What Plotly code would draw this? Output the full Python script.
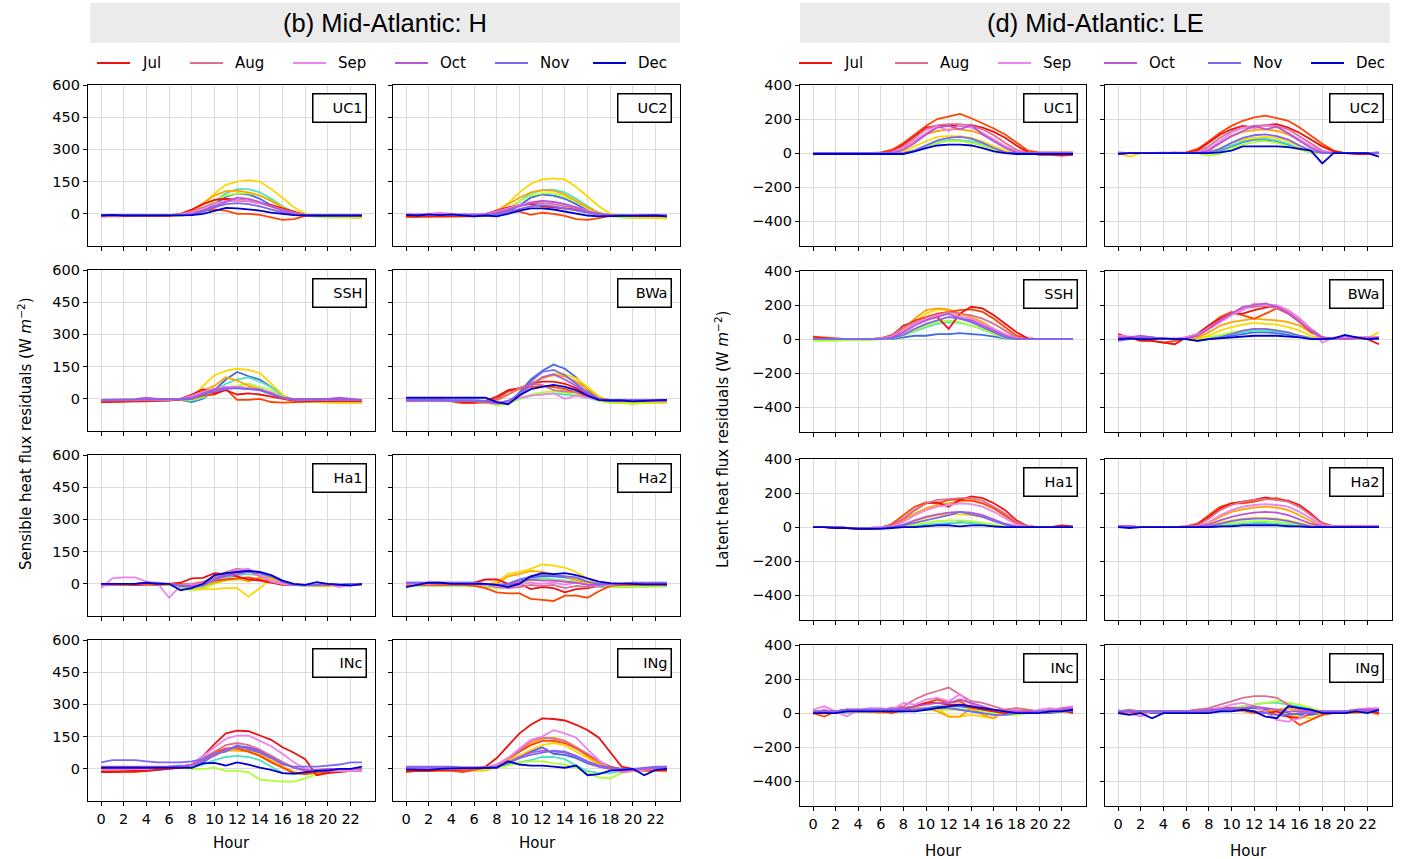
import plotly.graph_objects as go

MONTHS = ["Jan", "Feb", "Mar", "Apr", "May", "Jun", "Jul", "Aug", "Sep", "Oct", "Nov", "Dec"]
COLORS = ["#4169E1", "#50E3C2", "#ADFF2F", "#FFD700", "#FFA500", "#FF4500",
          "#EE1111", "#DB7093", "#EE82EE", "#BA55D3", "#7B68EE", "#0000CD"]
HOURS = list(range(24))
LEGEND_MONTHS = ["Jul", "Aug", "Sep", "Oct", "Nov", "Dec"]
X_TICKS = list(range(0, 23, 2))
H_TICKS = [0, 150, 300, 450, 600]
LE_TICKS = [-400, -200, 0, 200, 400]

# ---------------- Sensible heat flux residuals (H) ----------------
H_UC1 = [
    [-8,-8,-8,-7,-7,-7,-8,-8,-5,10,45,80,95,90,70,40,15,0,-8,-10,-10,-10,-10,-10],
    [-10,-10,-9,-9,-9,-9,-9,-8,-3,20,60,95,115,115,100,70,35,8,-8,-12,-15,-15,-15,-15],
    [-12,-12,-12,-11,-11,-11,-11,-10,-3,25,60,85,95,95,85,60,30,5,-10,-15,-18,-18,-18,-20],
    [-12,-12,-12,-10,-10,-10,-10,-6,5,45,95,135,150,157,150,115,75,30,0,-10,-12,-14,-15,-15],
    [-10,-10,-10,-9,-9,-9,-8,-3,15,50,85,105,108,100,85,60,30,5,-8,-10,-10,-10,-10,-10],
    [-12,-12,-12,-11,-11,-11,-10,-5,5,15,20,15,0,0,-5,-15,-28,-25,-10,-10,-10,-10,-10,-10],
    [-10,-10,-10,-10,-10,-10,-8,0,20,45,65,70,65,60,50,40,25,10,-5,-8,-8,-8,-8,-8],
    [-8,-8,-8,-8,-8,-8,-6,0,10,30,50,60,62,58,50,35,20,5,-5,-8,-8,-8,-8,-8],
    [-8,-8,-8,-7,-7,-7,-7,-5,5,25,45,60,65,60,50,35,15,0,-8,-8,-8,-8,-8,-8],
    [-8,-8,-8,-7,-7,-7,-7,-6,0,15,35,55,75,70,55,35,15,0,-8,-8,-8,-8,-8,-8],
    [-8,-8,-8,-7,-7,-7,-7,-6,-3,10,30,45,50,45,35,20,5,-5,-8,-8,-8,-8,-8,-8],
    [-8,-5,-8,-7,-7,-7,-7,-7,-6,0,15,28,25,20,15,5,-2,-6,-8,-8,-8,-8,-8,-8],
]
H_UC2 = [
    [-5,-8,-5,-5,-5,-8,-10,-8,-5,10,40,75,90,85,70,45,15,0,-10,-12,-10,-10,-8,-8],
    [-8,-8,-8,-8,-8,-8,-10,-8,0,20,60,95,110,112,100,70,35,5,-10,-15,-15,-15,-15,-15],
    [-10,-10,-10,-10,-10,-10,-12,-10,-2,25,60,85,95,95,80,55,25,0,-12,-18,-20,-20,-20,-20],
    [-10,-10,-10,-8,-8,-8,-10,-5,8,50,100,140,160,165,160,125,80,35,0,-10,-15,-18,-20,-22],
    [-12,-12,-12,-10,-10,-10,-10,-3,15,45,75,100,110,108,90,60,30,5,-8,-10,-10,-10,-10,-12],
    [-15,-15,-15,-12,-12,-12,-12,-5,0,10,10,-5,5,0,-10,-25,-28,-20,-10,-10,-10,-10,-10,-10],
    [-10,-10,-10,-10,-10,-10,-10,0,15,30,40,45,35,30,25,20,10,0,-8,-8,-5,-8,-8,-8],
    [-5,-5,-5,0,-5,-5,-5,0,10,25,40,50,50,45,35,25,10,0,-5,-5,-5,-5,-5,-5],
    [0,-2,0,5,0,-2,-2,0,10,25,40,55,60,55,45,30,15,0,-5,-5,-5,-5,-5,-5],
    [-5,-5,-5,-5,-5,-5,-5,-3,5,20,35,50,60,55,45,30,10,0,-5,-5,-5,-5,-5,-5],
    [-5,-5,-5,-5,-5,-5,-8,-5,-3,10,25,35,40,35,25,15,5,-5,-8,-8,-8,-8,-8,-8],
    [-5,-8,-3,-6,-3,-6,-12,-8,-12,0,15,25,25,20,10,0,-8,-12,-10,-10,-10,-8,-8,-12],
]
H_SSH = [
    [-5,-5,-5,-5,-5,-5,-5,-5,-15,0,40,90,125,105,90,55,15,-5,-8,-8,-8,-8,-8,-8],
    [-5,-5,-5,-5,-5,-5,-5,-5,-10,5,30,70,90,100,80,55,15,-5,-10,-10,-10,-10,-10,-10],
    [-8,-8,-8,-8,-8,-8,-8,-5,-5,10,35,55,60,70,55,40,5,-15,-10,-10,-10,-10,-10,-10],
    [-15,-15,-12,-10,-8,-8,-5,0,10,60,110,130,140,135,120,70,20,-10,-15,-15,-18,-20,-20,-20],
    [-10,-10,-10,-8,-8,-8,-5,0,15,40,60,100,85,60,45,25,0,-10,-10,-10,-10,-10,-10,-10],
    [-15,-15,-15,-12,-12,-10,-8,-5,0,15,20,45,-5,-5,0,-15,-18,-15,-15,-12,-12,-12,-12,-12],
    [-15,-15,-12,-10,-10,-10,-8,0,20,45,25,40,20,25,20,10,0,-8,-10,-10,-10,-10,-10,-10],
    [-8,-8,-8,-5,-5,-5,-5,0,15,35,45,55,55,50,40,25,5,-5,-5,-5,-5,-5,-5,-5],
    [-5,-5,-5,-5,0,-5,-5,0,10,30,45,55,55,50,40,30,5,-5,-5,-5,-5,-5,-5,-5],
    [-5,-5,-3,-2,5,0,0,0,5,25,45,50,50,45,45,25,5,0,0,0,0,5,0,-5],
    [-5,-5,-5,-5,-3,-3,-3,-3,0,20,35,45,50,45,40,20,5,-5,-5,-5,-5,-5,-5,-5],
    None,
]
H_BWA = [
    [-5,-5,-5,-5,-5,-5,-8,-10,-20,-20,30,90,130,160,140,100,40,0,-5,-5,-5,-5,-5,-5],
    [-10,-10,-10,-10,-10,-10,-12,-15,-25,-20,0,15,20,25,20,15,5,-10,-15,-15,-15,-15,-15,-15],
    [-10,-10,-10,-10,-10,-10,-12,-15,-30,-25,0,20,30,35,30,20,10,-10,-20,-20,-25,-20,-20,-20],
    [-8,-8,-8,-8,-8,-8,-10,-15,-20,-15,20,70,100,115,115,95,55,10,-10,-15,-15,-15,-15,-15],
    [-8,-8,-8,-8,-8,-10,-15,-20,-10,20,45,70,95,110,105,80,45,5,-10,-12,-12,-12,-12,-12],
    [-8,-8,-8,-8,-12,-20,-20,-15,0,35,50,55,60,55,45,30,10,-5,-10,-10,-10,-10,-10,-10],
    [-5,-5,-5,-5,-10,-15,-15,-10,10,40,50,70,80,80,70,50,20,-5,-10,-10,-10,-10,-10,-10],
    [-10,-10,-10,-8,-8,-10,-12,-15,-5,20,50,70,65,40,35,30,15,-5,-10,-10,-10,-10,-10,-10],
    [-8,-8,-8,-8,-8,-8,-10,-15,-25,-15,5,15,20,25,0,15,5,-5,-10,-10,-10,-10,-10,-10],
    [-10,-10,-10,-8,-8,-8,-10,-15,-20,-10,20,60,100,115,90,60,25,-5,-10,-10,-5,-10,-10,-10],
    [-5,-5,-5,-5,-5,-5,-8,-10,-20,-10,20,80,125,135,110,70,30,0,-5,-5,-5,-5,-5,-5],
    [5,5,5,5,5,5,5,5,-15,-25,15,45,55,65,55,40,15,-5,-8,-8,-12,-10,-5,-5],
]
H_HA1 = [
    [0,0,0,0,0,-5,-5,-15,-15,-5,25,45,55,65,50,35,10,-5,-5,-5,-5,-5,0,0],
    [0,0,0,0,0,-5,-5,-15,-20,-15,10,25,40,45,40,30,10,-5,-10,-10,-10,-10,-5,-5],
    [-5,-5,-5,-5,-5,-5,-5,-20,-30,-25,0,15,20,20,25,25,5,-5,-10,-10,-10,-10,-5,-5],
    [-5,-5,-5,-5,0,0,0,-10,-20,-25,-25,-20,-20,-60,-20,25,10,0,-5,-5,-10,-10,-5,-5],
    [-5,-5,-5,-5,-5,-5,-5,-5,-15,-10,5,20,25,10,30,30,10,-5,-5,-10,-10,-5,-5,-5],
    [-5,-5,-5,-5,-5,0,0,0,-5,5,15,20,25,30,20,10,0,-5,-5,-5,-5,-5,-5,-5],
    [0,0,0,-5,0,-5,0,5,25,28,50,45,35,20,15,5,-5,-5,-5,-5,-5,-5,-5,0],
    [-10,-5,0,0,0,0,0,-5,0,10,30,55,70,60,35,15,0,-5,-5,-5,-5,-5,-5,-5],
    [-20,25,30,30,10,0,-65,-10,-5,0,20,40,65,70,40,10,0,-5,-10,-5,0,-15,-5,0],
    [0,0,0,0,5,0,0,-10,-10,-5,20,35,45,55,50,35,10,-5,-5,-5,0,-5,-5,0],
    [0,0,0,0,5,5,0,-10,-15,-5,20,40,55,60,50,35,10,-5,-5,-5,0,-5,0,0],
    [0,0,0,0,5,0,0,-30,-20,0,40,50,55,60,55,40,15,0,-5,8,0,-3,-8,0],
]
H_HA2 = [
    [0,0,0,0,0,0,0,-5,-10,0,20,30,35,35,30,20,5,-5,-8,-8,-8,-8,-8,-8],
    [-8,-8,-8,-8,-8,-8,-8,-10,-15,-10,10,20,25,20,15,10,0,-15,-15,-15,-15,-15,-12,-12],
    [-8,-8,-8,-8,-8,-8,-10,-15,-20,-15,0,15,20,15,15,10,0,-10,-15,-15,-15,-15,-12,-10],
    [-5,-5,-5,-5,-5,-5,-5,-5,10,45,55,70,90,85,75,55,25,0,-5,-5,-5,-5,-5,-5],
    [-5,-5,-5,-5,-5,-5,-5,-5,0,35,45,60,55,45,35,20,5,-5,-5,-5,-5,-5,-5,-5],
    [-5,-5,-5,-5,-5,-5,-10,-20,-40,-45,-45,-70,-75,-80,-55,-55,-65,-35,-10,-5,-5,-5,-5,-5],
    [0,0,0,0,0,0,5,20,20,0,0,-25,-15,-20,-40,-25,-20,-10,-5,0,0,0,0,0],
    [0,0,0,0,0,0,0,-5,-15,-20,-15,-5,-10,-5,-20,-10,-15,-10,-5,0,0,0,0,0],
    [0,0,0,5,0,0,0,-5,-10,-15,-5,5,0,5,-5,5,-5,-10,-5,0,5,0,0,0],
    [5,5,5,5,5,5,5,0,-5,-5,10,20,15,15,10,5,-5,-5,0,0,5,0,0,0],
    [5,5,5,5,5,5,5,0,-5,0,20,35,40,40,35,30,10,0,0,0,5,5,5,5],
    [-15,-5,5,5,0,0,0,0,-5,-15,0,35,50,45,50,40,25,10,3,0,0,-3,-3,-3],
]
H_INC = [
    [0,0,0,5,5,5,10,15,15,30,65,90,105,100,85,60,30,5,-10,-10,-5,-5,-5,0],
    [-5,-5,-5,0,0,0,5,10,10,20,40,55,60,55,40,10,-20,-25,-20,-15,-10,-10,-5,-5],
    [-5,-5,-5,0,0,0,5,5,0,0,5,-10,-10,-15,-50,-55,-60,-60,-45,-25,-15,-15,-10,-5],
    [-10,-10,-10,-5,-5,0,5,10,20,40,70,85,90,85,70,40,10,-15,-25,-15,-10,-10,-5,-5],
    [-10,-10,-10,-5,-5,0,0,5,20,45,70,85,85,80,60,35,10,-15,-25,-20,-15,-10,-10,-10],
    [-15,-15,-15,-15,-10,-5,0,5,20,50,75,95,95,80,60,30,5,-20,-25,-15,-15,-10,-10,-10],
    [-15,-15,-10,-10,-10,-5,0,5,20,60,115,165,178,175,155,135,100,75,45,-30,-20,-15,-10,-10],
    [-5,-5,-5,0,0,5,5,10,20,50,80,110,120,110,90,60,30,5,-10,-10,-10,-10,-10,-10],
    [0,0,0,0,0,5,5,10,20,60,100,140,155,155,130,105,70,30,0,-10,-10,-10,-10,-10],
    [10,10,10,10,10,10,10,10,20,40,60,90,100,95,80,55,25,5,-5,-5,0,0,0,0],
    [30,40,40,40,35,30,30,30,35,45,70,80,110,90,75,50,20,10,10,10,15,20,30,30],
    [5,5,5,5,5,5,5,5,5,25,28,15,30,20,5,-5,-20,-22,-15,-10,-8,0,0,10],
]
H_ING = [
    [5,5,5,5,5,5,5,5,15,35,60,80,100,70,65,50,25,10,0,-5,-5,0,5,5],
    [5,5,0,0,0,0,0,0,10,20,30,40,55,55,45,15,-10,-20,-20,-10,-5,0,5,5],
    [0,0,0,0,0,0,0,0,5,15,30,35,35,25,20,5,-20,-40,-45,-20,-10,-5,0,0],
    [-5,-5,-5,-5,-5,-5,-10,-10,10,35,60,90,110,120,110,80,50,20,-5,-10,-10,-5,-5,-5],
    [-10,-10,-10,-5,-5,0,-5,5,15,40,80,120,140,145,130,100,60,25,0,-10,-10,-5,-5,-5],
    [-15,-10,-10,-10,-10,-15,-5,5,20,50,80,110,130,130,120,95,65,35,10,0,-5,-10,-10,-10],
    [-10,-10,-10,-5,-5,-5,0,10,50,110,165,205,235,232,225,205,180,145,75,10,0,-5,-5,-5],
    [0,0,0,0,0,0,0,5,15,50,85,130,145,140,130,100,70,35,0,-15,-10,-5,0,0],
    [0,0,0,0,0,5,5,5,20,50,95,135,150,180,165,145,90,40,0,-15,-10,-5,5,10],
    [5,5,5,5,5,5,5,5,10,30,55,75,85,80,75,55,30,10,0,-10,-5,0,5,5],
    [10,10,10,10,10,5,5,5,10,25,50,65,75,85,80,60,35,15,5,0,0,5,10,10],
    [-3,-3,-5,0,3,3,3,3,5,35,20,15,15,10,5,15,-30,-25,-8,-5,0,-30,-5,0],
]

# ---------------- Latent heat flux residuals (LE) ----------------
LE_UC1 = [
    [0,0,0,0,0,0,0,0,0,15,40,60,75,75,65,45,20,5,0,0,0,0,0,0],
    [0,0,0,0,0,0,0,0,0,20,45,65,75,75,70,50,25,5,0,0,0,0,0,0],
    [0,0,0,0,0,0,0,0,0,20,40,60,70,70,60,45,20,5,0,0,0,0,0,0],
    [0,0,0,0,0,0,0,0,10,40,70,95,100,100,90,70,40,15,0,0,0,0,0,0],
    [0,0,0,0,0,0,0,5,30,70,110,130,140,140,130,110,80,40,10,0,0,0,0,0],
    [0,0,0,0,0,0,5,20,60,110,160,200,215,230,205,175,145,110,60,15,5,5,5,5],
    [0,0,0,0,0,0,0,10,50,100,150,160,160,160,165,150,125,90,45,5,-10,-10,-15,-10],
    [0,0,0,0,0,0,0,5,40,90,140,165,170,170,160,140,105,60,20,0,0,0,0,0],
    [0,0,0,0,0,0,0,5,30,75,120,160,130,165,150,120,80,40,10,0,0,0,0,0],
    [0,0,0,0,0,0,0,0,20,60,110,150,160,140,165,110,70,30,5,0,0,0,0,0],
    [0,0,0,0,0,0,0,0,0,15,45,75,90,95,85,60,30,5,0,0,0,0,0,0],
    [-5,-5,-5,-5,-5,-5,-5,-5,-5,10,30,45,50,50,45,30,10,0,-5,-5,-5,-5,-5,-5],
]
LE_UC2 = [
    [0,0,0,0,0,0,0,0,0,15,40,65,80,80,70,50,25,5,0,0,0,0,0,0],
    [0,0,0,0,0,0,0,0,0,20,45,70,85,85,75,55,25,5,0,0,0,0,0,0],
    [0,0,0,0,0,0,0,0,-15,-5,30,50,65,70,60,40,20,5,0,0,0,0,0,0],
    [0,-20,0,0,0,0,0,0,5,30,60,80,90,95,90,70,40,10,0,0,0,0,0,0],
    [0,0,0,0,0,0,0,5,25,60,100,125,135,140,130,110,75,35,10,0,0,0,0,0],
    [0,0,0,0,0,0,5,25,70,120,160,190,210,220,205,190,150,100,55,15,0,0,0,0],
    [0,0,0,0,0,0,0,15,60,110,140,160,150,165,170,150,120,80,40,10,0,-5,-5,0],
    [0,0,0,0,0,0,0,5,40,90,130,150,160,165,160,140,100,55,15,0,0,0,0,0],
    [0,0,0,0,5,0,0,5,25,70,120,150,145,160,155,120,80,40,10,0,0,0,0,5],
    [5,0,0,0,0,5,0,0,15,60,100,130,160,140,155,115,70,30,5,0,0,0,0,5],
    [0,0,0,0,0,0,0,0,5,25,60,90,105,110,100,80,45,15,0,0,0,0,0,0],
    [-5,0,0,0,0,0,0,0,0,5,15,40,40,40,40,35,25,15,-60,0,0,0,0,-20],
]
LE_SSH = [
    [0,0,0,0,0,0,0,0,10,20,20,30,30,35,30,25,15,5,0,0,0,0,0,0],
    [-5,-5,-5,-5,-5,0,0,5,20,45,70,90,100,95,80,55,30,5,0,0,0,0,0,0],
    [-10,-10,-10,-5,-5,-5,0,5,20,50,80,100,110,100,80,60,30,10,0,0,0,0,0,0],
    [0,0,0,0,0,0,0,10,50,100,150,175,170,140,110,80,50,20,0,0,0,0,0,0],
    [5,5,0,0,0,0,5,20,60,120,170,180,175,150,130,100,60,25,5,0,0,0,0,0],
    [15,10,5,0,0,0,5,25,70,110,130,150,160,170,175,160,120,70,20,5,0,0,0,0],
    [10,5,0,0,0,0,5,20,80,100,120,130,60,150,190,180,140,90,40,5,0,0,0,0],
    [5,0,0,0,0,0,5,20,70,100,120,140,160,150,140,120,90,50,10,0,0,0,0,0],
    [0,0,0,0,0,0,5,15,50,90,120,140,150,130,120,90,60,30,5,0,0,0,0,0],
    [0,0,0,0,0,0,0,10,40,80,110,130,150,120,110,80,50,20,0,0,0,0,0,0],
    [0,0,0,0,0,0,0,5,25,60,90,110,130,120,100,70,40,10,0,0,0,0,0,0],
    None,
]
LE_BWA = [
    [0,0,0,0,0,0,0,0,0,10,20,30,40,40,35,25,15,5,0,0,0,0,0,0],
    [0,0,0,0,0,0,0,0,10,20,30,40,50,50,45,35,20,5,0,0,0,0,0,0],
    [0,0,0,0,0,0,0,0,10,25,40,50,60,60,55,40,20,10,0,0,0,0,10,10],
    [0,0,0,0,0,0,0,5,20,50,70,85,95,90,85,70,50,20,0,0,0,0,5,40],
    [0,0,5,0,0,0,0,10,40,80,100,110,120,115,110,100,80,40,10,0,0,5,5,0],
    [20,10,0,-10,-20,-10,5,30,80,130,160,140,120,150,180,150,100,40,10,0,0,10,10,0],
    [30,10,-10,-10,-20,-30,10,30,80,120,150,150,170,185,195,170,120,60,10,0,0,10,0,-30],
    [10,10,10,10,0,0,10,20,70,110,150,180,190,195,180,160,110,60,10,0,0,5,10,10],
    [20,15,10,10,5,5,10,30,60,100,140,170,210,200,200,170,120,60,-20,10,10,10,10,10],
    [10,10,20,10,0,0,5,20,60,110,150,190,200,210,190,150,100,50,10,5,0,5,5,10],
    [-10,0,10,10,0,0,0,-10,0,10,30,50,60,60,50,40,20,5,0,0,20,10,0,0],
    [0,5,0,0,5,0,0,-10,0,5,10,15,20,20,20,15,10,0,0,5,25,10,0,5],
]
LE_HA1 = [
    [0,0,0,-5,-5,-5,-5,0,0,5,10,15,20,30,25,15,5,0,0,0,0,0,0,0],
    [0,0,0,-5,-5,-5,-5,0,0,10,15,20,25,25,25,15,10,0,0,0,0,0,0,0],
    [0,0,0,-5,-5,-5,-5,0,5,15,25,35,40,40,35,25,15,5,0,0,0,0,0,0],
    [0,0,0,-5,-5,-5,-5,0,15,35,55,70,75,75,70,60,40,15,0,0,0,0,0,0],
    [0,0,0,-5,-5,-5,0,10,40,80,110,130,140,150,160,140,110,70,25,5,0,0,0,0],
    [0,0,-5,-5,-10,-10,-5,20,70,120,145,140,160,160,155,140,110,70,25,5,0,0,0,0],
    [0,0,-5,-5,-10,-10,-5,10,50,100,140,145,120,160,180,170,140,100,40,5,0,0,10,5],
    [0,0,0,-5,-5,-5,0,10,50,100,140,160,165,170,170,155,120,80,30,5,0,0,0,0],
    [0,0,0,-5,-5,-5,0,5,30,70,100,120,130,140,135,120,90,50,15,0,0,0,0,0],
    [0,0,0,-5,-5,-5,-5,0,15,40,60,75,85,90,85,70,45,20,5,0,0,0,0,0],
    [0,0,0,-5,-5,-5,-5,0,10,25,40,55,70,90,75,60,35,15,0,0,0,0,0,0],
    [0,0,-5,-5,-10,-10,-10,-5,0,0,5,10,10,5,10,10,5,0,0,0,0,0,0,0],
]
LE_HA2 = [
    [0,0,0,0,0,0,0,0,0,5,10,15,20,20,15,10,5,0,0,0,0,0,0,0],
    [0,0,0,0,0,0,0,0,0,10,15,20,25,25,20,15,10,0,0,0,0,0,0,0],
    [0,0,0,0,0,0,0,0,5,15,25,30,35,35,30,25,15,5,0,0,0,0,0,0],
    [0,0,0,0,0,0,0,0,10,25,40,50,55,55,50,40,25,10,0,0,0,0,0,0],
    [5,0,0,0,0,0,0,5,25,60,90,105,115,120,115,100,70,35,5,0,0,0,0,0],
    [5,5,0,0,0,0,5,20,70,120,140,140,150,165,170,150,120,70,25,5,5,5,5,5],
    [5,5,0,0,0,0,5,15,60,110,140,150,160,175,160,155,130,80,20,5,5,5,5,5],
    [5,5,0,0,0,0,5,10,50,100,130,150,160,165,160,150,120,70,20,5,5,5,5,5],
    [5,5,0,0,0,0,0,5,30,70,100,120,130,135,130,120,90,50,10,5,5,5,5,5],
    [5,5,0,0,0,0,0,5,15,40,60,75,85,90,85,70,45,20,5,0,0,0,0,0],
    [0,0,0,0,0,0,0,0,5,20,35,45,50,50,45,35,20,5,0,0,0,0,0,0],
    [0,-5,0,0,0,0,0,0,0,5,5,10,10,10,10,5,5,0,0,0,0,0,0,0],
]
LE_INC = [
    [0,0,0,10,10,10,10,10,10,20,30,40,40,40,30,20,10,0,0,0,0,0,10,10],
    [0,0,0,0,10,10,10,10,10,20,20,30,30,20,10,0,-10,-10,0,0,0,10,10,10],
    [0,10,10,10,10,10,10,10,20,20,20,20,20,20,20,10,0,-10,-10,0,10,10,10,10],
    [0,0,0,10,10,10,10,10,10,20,30,30,-20,-20,-10,-20,-30,10,10,0,0,10,10,10],
    [10,10,10,10,10,10,0,10,20,30,30,10,-20,-20,30,-10,-30,20,30,20,10,10,10,0],
    [0,-20,10,20,10,10,10,0,20,40,60,80,60,70,30,30,10,20,10,10,10,10,20,10],
    [10,0,10,20,20,10,20,30,30,40,60,60,50,50,40,20,10,0,10,10,10,10,20,0],
    [0,20,0,10,20,10,20,30,40,80,110,130,150,110,70,60,40,20,30,20,10,20,30,40],
    [20,40,10,-20,20,30,30,20,60,50,80,90,70,110,50,40,20,10,20,0,20,30,20,40],
    [10,10,10,20,20,20,20,20,30,40,50,60,60,80,60,40,20,10,10,10,10,10,20,30],
    [10,10,10,20,20,20,20,20,20,20,30,30,30,20,10,0,-10,-10,0,0,10,10,10,10],
    [0,0,0,10,10,10,10,10,10,10,20,30,40,50,40,30,20,10,0,0,0,10,10,20],
]
LE_ING = [
    [0,0,0,0,0,0,0,0,10,10,20,30,30,20,10,0,-10,-10,0,0,0,0,10,10],
    [0,0,0,10,10,10,10,10,10,20,30,40,50,60,60,50,40,20,10,0,0,0,10,10],
    [0,0,0,10,10,10,10,10,10,20,30,40,50,60,70,60,50,30,10,0,0,0,10,10],
    [10,10,10,10,10,10,10,10,10,10,20,20,10,10,10,-10,-20,-30,-10,0,0,0,10,10],
    [10,10,0,10,10,10,10,10,20,20,20,10,0,10,20,30,10,0,0,0,0,0,10,-10],
    [0,0,10,10,10,10,10,10,20,20,30,20,0,10,-10,-20,-70,-40,-10,0,0,10,10,0],
    [0,10,10,10,10,10,10,20,20,30,30,20,10,0,10,-20,-30,0,10,0,10,10,10,0],
    [10,20,10,10,10,10,10,20,30,50,70,90,100,100,90,50,20,10,10,10,10,20,20,20],
    [20,0,-20,10,10,10,10,10,20,30,50,60,40,10,-40,-50,-30,10,10,0,10,20,30,30],
    [10,10,10,10,10,10,10,10,20,20,30,30,40,30,20,10,10,10,10,10,10,20,20,20],
    [10,10,10,10,10,10,10,10,10,20,20,20,10,0,-10,-10,0,0,10,10,10,10,10,10],
    [0,-10,0,-30,0,0,0,0,0,10,10,20,10,-20,-30,40,30,20,0,0,0,10,0,20],
]

H_PANELS = [("UC1", H_UC1), ("UC2", H_UC2), ("SSH", H_SSH), ("BWa", H_BWA),
            ("Ha1", H_HA1), ("Ha2", H_HA2), ("INc", H_INC), ("INg", H_ING)]
LE_PANELS = [("UC1", LE_UC1), ("UC2", LE_UC2), ("SSH", LE_SSH), ("BWa", LE_BWA),
             ("Ha1", LE_HA1), ("Ha2", LE_HA2), ("INc", LE_INC), ("INg", LE_ING)]

# ---------------- layout geometry (pixels) ----------------
W, HT = 1406, 859
def fx(p): return p / W
def fy(p): return 1 - p / HT

L_COLS = [(88, 375), (393, 680)]
L_ROWS = [(85, 246), (270, 431), (455, 616), (640, 801)]
R_COLS = [(800, 1086), (1105, 1392)]
R_ROWS = [(85, 246), (271, 432), (459, 620), (645, 806)]

FONT = "DejaVu Sans"
fig = go.Figure()
layout_axes = {}
annotations = []
shapes = []

def add_block(panels, cols, rows, yrange, yticks, start):
    for i, (name, series) in enumerate(panels):
        r, c = divmod(i, 2)
        n = start + i
        xs = "x" if n == 1 else f"x{n}"
        ys = "y" if n == 1 else f"y{n}"
        for m, vals in enumerate(series):
            if vals is None:
                continue
            fig.add_trace(go.Scatter(x=HOURS, y=vals, mode="lines", xaxis=xs, yaxis=ys,
                                     line=dict(color=COLORS[m], width=1.8),
                                     name=MONTHS[m], showlegend=False, hoverinfo="skip"))
        common = dict(showline=True, mirror=True, linecolor="black", linewidth=1.3,
                      ticks="outside", ticklen=4, tickwidth=1, tickcolor="black",
                      showgrid=True, gridcolor="#dcdcdc", gridwidth=1, zeroline=False,
                      tickfont=dict(family=FONT, size=14.5, color="black"))
        layout_axes["xaxis" if n == 1 else f"xaxis{n}"] = dict(
            domain=[fx(cols[c][0]), fx(cols[c][1])], anchor=ys,
            range=[-1.15, 24.15], tickvals=X_TICKS, showticklabels=(r == 3), **common)
        layout_axes["yaxis" if n == 1 else f"yaxis{n}"] = dict(
            domain=[fy(rows[r][1]), fy(rows[r][0])], anchor=xs,
            range=yrange, tickvals=yticks, showticklabels=(c == 0), **common)
        annotations.append(dict(
            text=name, xref=f"{xs} domain", yref=f"{ys} domain",
            x=1 - 8 / (cols[c][1] - cols[c][0]), y=1 - 8 / (rows[r][1] - rows[r][0]),
            xanchor="right", yanchor="top", showarrow=False, align="right",
            width=46, height=21, borderpad=3, bordercolor="black", borderwidth=1.5,
            bgcolor="white", font=dict(family=FONT, size=14.5, color="black")))

add_block(H_PANELS, L_COLS, L_ROWS, [-150, 600], H_TICKS, 1)
add_block(LE_PANELS, R_COLS, R_ROWS, [-545, 400], LE_TICKS, 9)

# title boxes
for (x0, x1, title) in [(90, 680, "(b) Mid-Atlantic: H"), (800, 1390, "(d) Mid-Atlantic: LE")]:
    shapes.append(dict(type="rect", xref="paper", yref="paper", x0=fx(x0), x1=fx(x1),
                       y0=fy(43), y1=fy(3), fillcolor="#ebebeb", line=dict(width=0), layer="below"))
    annotations.append(dict(text=title, xref="paper", yref="paper", x=fx((x0 + x1) / 2), y=fy(23),
                            xanchor="center", yanchor="middle", showarrow=False,
                            font=dict(family="Liberation Sans", size=25.5, color="black")))

# legends (Jul..Dec visible)
LEG_LEFT = [97, 190, 293, 395, 495, 593]
LEG_RIGHT = [799, 895, 998, 1104, 1208, 1311]
for starts in (LEG_LEFT, LEG_RIGHT):
    for k, mon in enumerate(LEGEND_MONTHS):
        m = MONTHS.index(mon)
        x0 = starts[k]
        shapes.append(dict(type="line", xref="paper", yref="paper", x0=fx(x0), x1=fx(x0 + 33),
                           y0=fy(63), y1=fy(63), line=dict(color=COLORS[m], width=2)))
        annotations.append(dict(text=mon, xref="paper", yref="paper", x=fx(x0 + 43), y=fy(63),
                                xanchor="left", yanchor="middle", showarrow=False,
                                font=dict(family=FONT, size=15, color="black")))

# axis titles
for (x, y) in [(231, 843), (537, 843), (943, 851), (1248, 851)]:
    annotations.append(dict(text="Hour", xref="paper", yref="paper", x=fx(x), y=fy(y),
                            xanchor="center", yanchor="middle", showarrow=False,
                            font=dict(family=FONT, size=15, color="black")))
annotations.append(dict(text="Sensible heat flux residuals (W <i>m</i><sup>\u22122</sup>)",
                        xref="paper", yref="paper", x=fx(25), y=fy(434), textangle=-90,
                        xanchor="center", yanchor="middle", showarrow=False,
                        font=dict(family=FONT, size=15, color="black")))
annotations.append(dict(text="Latent heat flux residuals (W <i>m</i><sup>\u22122</sup>)",
                        xref="paper", yref="paper", x=fx(722), y=fy(440), textangle=-90,
                        xanchor="center", yanchor="middle", showarrow=False,
                        font=dict(family=FONT, size=15, color="black")))

fig.update_layout(width=W, height=HT, autosize=False, margin=dict(l=0, r=0, t=0, b=0),
                  template="none", paper_bgcolor="white", plot_bgcolor="white",
                  showlegend=False, annotations=annotations, shapes=shapes,
                  font=dict(family=FONT), **layout_axes)
fig.write_html("out.html")
